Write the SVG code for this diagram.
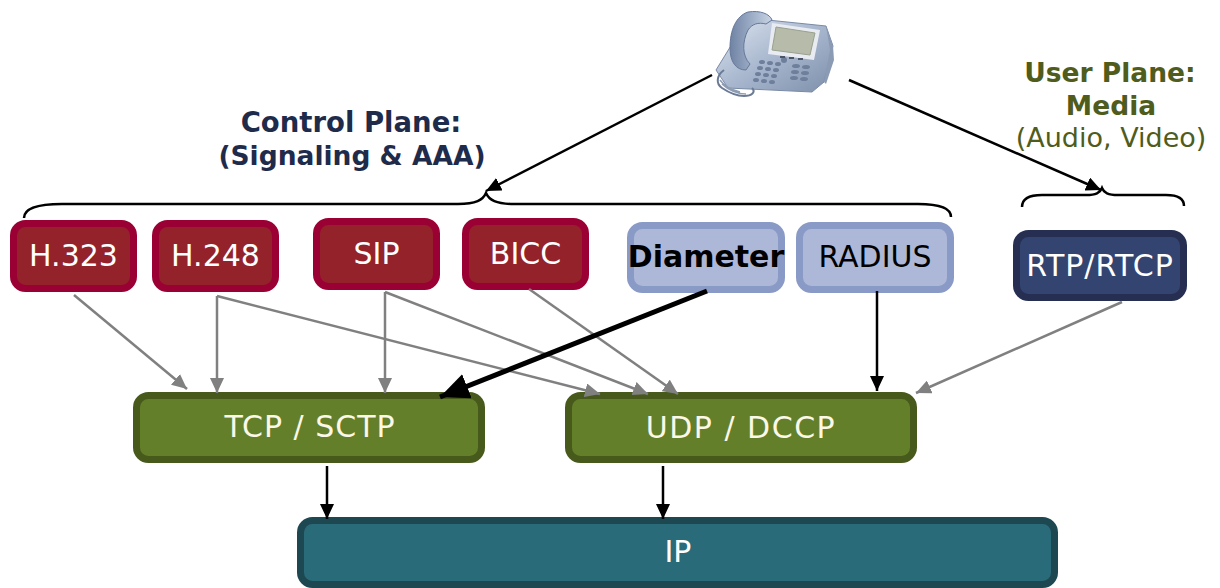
<svg xmlns="http://www.w3.org/2000/svg" width="1220" height="588" viewBox="0 0 1220 588">
  <style>
    .box { stroke-width: 7; }
    .red { fill: #93222a; stroke: #9b0035; }
    .blue { fill: #adb8d8; stroke: #8a9ac6; }
    .navy { fill: #344470; stroke: #262f52; }
    .green { fill: #647f2a; stroke: #475a1c; }
    .teal { fill: #2a6b7a; stroke: #1d4852; }
    .lbl { font-family: "DejaVu Sans", "Liberation Sans", sans-serif; font-size: 30px; text-anchor: middle; }
    .w { fill: #ffffff; }
    .cream { fill: #fbf8e8; }
    .k { fill: #000000; }
    .head { font-family: "DejaVu Sans", "Liberation Sans", sans-serif; text-anchor: middle; }
    .gray { stroke: #808080; stroke-width: 2.5; fill: none; marker-end: url(#arrGray); }
    .blk { stroke: #000000; stroke-width: 2.5; fill: none; marker-end: url(#arrBlk); }
    .blkThick { stroke: #000000; stroke-width: 5; fill: none; marker-end: url(#arrBig); }
    .brace { stroke: #000000; stroke-width: 2.5; fill: none; }
  </style>
  <defs>
    <marker id="arrGray" markerUnits="userSpaceOnUse" markerWidth="16" markerHeight="14" refX="15" refY="7" orient="auto">
      <path d="M0,0 L15,7 L0,14 z" fill="#808080"/>
    </marker>
    <marker id="arrBlk" markerUnits="userSpaceOnUse" markerWidth="16" markerHeight="14" refX="15" refY="7" orient="auto">
      <path d="M0,0 L15,7 L0,14 z" fill="#000000"/>
    </marker>
    <marker id="arrBig" markerUnits="userSpaceOnUse" markerWidth="30" markerHeight="26" refX="29" refY="13" orient="auto">
      <path d="M0,0 L29,13 L0,26 z" fill="#000000"/>
    </marker>
    <linearGradient id="phoneBody" x1="0" y1="0" x2="1" y2="1">
      <stop offset="0" stop-color="#dfe6f0"/>
      <stop offset="0.5" stop-color="#a9b8cf"/>
      <stop offset="1" stop-color="#7d8fab"/>
    </linearGradient>
    <linearGradient id="handset" x1="0" y1="0" x2="1" y2="0">
      <stop offset="0" stop-color="#6f83a3"/>
      <stop offset="0.6" stop-color="#a4b4cc"/>
      <stop offset="1" stop-color="#c9d4e3"/>
    </linearGradient>
  </defs>

  <!-- desk phone -->
  <g id="phone">
    <path d="M716,70 L748,18 L826,26 L833,46 L824,82 L812,92 L728,88 Z" fill="url(#phoneBody)" stroke="#7a8aa5" stroke-width="1"/>
    <path d="M826,26 L833,46 L834,60 L826,84 L824,82 L830,50 Z" fill="#8c9bb4"/>
    <path d="M772,23 L820,30 L814,60 L768,54 Z" fill="#e8ecf2"/>
    <path d="M776,27 L815,33 L810,55 L772,50 Z" fill="#b7bcaa" stroke="#9aa08e" stroke-width="1"/>
    <g fill="#6e7f9c">
      <ellipse cx="762" cy="62" rx="3" ry="2"/><ellipse cx="770" cy="63" rx="3" ry="2"/><ellipse cx="778" cy="64" rx="3" ry="2"/>
      <ellipse cx="760" cy="68" rx="3" ry="2"/><ellipse cx="768" cy="69" rx="3" ry="2"/><ellipse cx="776" cy="70" rx="3" ry="2"/>
      <ellipse cx="758" cy="74" rx="3" ry="2"/><ellipse cx="766" cy="75" rx="3" ry="2"/><ellipse cx="774" cy="76" rx="3" ry="2"/>
      <ellipse cx="756" cy="80" rx="3" ry="2"/><ellipse cx="764" cy="81" rx="3" ry="2"/><ellipse cx="772" cy="82" rx="3" ry="2"/>
      <ellipse cx="796" cy="66" rx="4" ry="2"/><ellipse cx="806" cy="67" rx="4" ry="2"/>
      <ellipse cx="795" cy="72" rx="4" ry="2"/><ellipse cx="805" cy="73" rx="4" ry="2"/>
      <ellipse cx="794" cy="78" rx="4" ry="2"/><ellipse cx="804" cy="79" rx="4" ry="2"/>
      <ellipse cx="784" cy="60" rx="3" ry="3"/>
    </g>
    <g fill="#4c5566">
      <rect x="780" y="56" width="5" height="2"/><rect x="789" y="57" width="5" height="2"/><rect x="798" y="58" width="5" height="2"/>
    </g>
    <path d="M748,12 C760,10 770,14 772,20 L766,24 C758,22 752,24 748,30 C742,42 742,56 750,64 L746,70 C736,70 730,62 730,48 C730,30 736,16 748,12 Z" fill="url(#handset)" stroke="#66789a" stroke-width="1"/>
    <path d="M724,70 C716,76 716,84 722,88 C728,92 736,96 744,96 C752,96 756,92 752,88" fill="none" stroke="#6b7b96" stroke-width="2"/>
    <path d="M720,80 C724,86 732,90 740,92 M722,84 C728,90 738,94 746,94" fill="none" stroke="#8e9cb3" stroke-width="1.5"/>
  </g>

  <!-- plane captions -->
  <g id="control-plane-label">
    <text class="head" x="351" y="132" font-size="27.5" font-weight="bold" fill="#1f2b4b">Control Plane:</text>
    <text class="head" x="352" y="165" font-size="26.5" font-weight="bold" fill="#1f2b4b">(Signaling &amp; AAA)</text>
  </g>
  <g id="user-plane-label">
    <text class="head" x="1110" y="82" font-size="26.5" font-weight="bold" fill="#4f5c1b">User Plane:</text>
    <text class="head" x="1111" y="115" font-size="26.5" font-weight="bold" fill="#4f5c1b">Media</text>
    <text class="head" x="1111" y="147" font-size="27" fill="#4f5c1b">(Audio, Video)</text>
  </g>

  <!-- braces -->
  <g id="braces">
    <path class="brace" d="M24,218 C24,209 36,204 62,204 L458,204 C476,204 483,200 486,193 C489,200 496,204 514,204 L918,204 C940,204 951,208 951,217"/>
    <path class="brace" d="M1022,207 C1022,199 1028,195 1042,195 L1086,195 C1096,195 1100,193 1102,188 C1104,193 1108,195 1118,195 L1166,195 C1178,195 1184,199 1184,206"/>
  </g>

  <!-- protocol nodes -->
  <g id="h323"><rect class="box red" x="13.5" y="223.5" width="120" height="65" rx="12"/><text class="lbl w" x="73.5" y="266">H.323</text></g>
  <g id="h248"><rect class="box red" x="155.5" y="223.5" width="120" height="65" rx="12"/><text class="lbl w" x="215.5" y="266">H.248</text></g>
  <g id="sip"><rect class="box red" x="316.5" y="221.5" width="120" height="65" rx="12"/><text class="lbl w" x="376.5" y="264">SIP</text></g>
  <g id="bicc"><rect class="box red" x="465.5" y="221.5" width="120" height="65" rx="12"/><text class="lbl w" x="525.5" y="264">BICC</text></g>
  <g id="diameter"><rect class="box blue" x="630.5" y="225.5" width="151" height="64" rx="12"/><text class="lbl k" x="706" y="267" font-size="27" font-weight="bold">Diameter</text></g>
  <g id="radius"><rect class="box blue" x="799.5" y="225.5" width="151" height="64" rx="12"/><text class="lbl k" x="875" y="267">RADIUS</text></g>
  <g id="rtp"><rect class="box navy" x="1016.5" y="233.5" width="167" height="64" rx="12"/><text class="lbl w" x="1100" y="276" letter-spacing="1">RTP/RTCP</text></g>

  <g id="tcp-sctp"><rect class="box green" x="136.5" y="395.5" width="345" height="64" rx="12"/><text class="lbl cream" x="310" y="437" letter-spacing="1">TCP / SCTP</text></g>
  <g id="udp-dccp"><rect class="box green" x="568.5" y="395.5" width="345" height="64" rx="12"/><text class="lbl cream" x="741" y="438" letter-spacing="1.5">UDP / DCCP</text></g>
  <g id="ip"><rect class="box teal" x="300.5" y="520.5" width="754" height="64" rx="12"/><text class="lbl w" x="678" y="562">IP</text></g>

  <!-- connectors -->
  <g id="connectors">
    <line class="blk" x1="712" y1="75" x2="486" y2="191"/>
    <line class="blk" x1="849" y1="80" x2="1101" y2="190"/>

    <line class="gray" x1="74" y1="295" x2="187" y2="389"/>
    <line class="gray" x1="217" y1="296" x2="217" y2="393"/>
    <line class="gray" x1="217" y1="296" x2="600" y2="394"/>
    <line class="gray" x1="385" y1="292" x2="385" y2="393"/>
    <line class="gray" x1="385" y1="292" x2="648" y2="394"/>
    <line class="gray" x1="529" y1="289" x2="678" y2="394"/>
    <line class="gray" x1="1122" y1="302" x2="916" y2="393"/>

    <line class="blkThick" x1="707" y1="291" x2="440" y2="397"/>
    <line class="blk" x1="877" y1="291" x2="877" y2="391"/>

    <line class="blk" x1="327" y1="466" x2="327" y2="519"/>
    <line class="blk" x1="663" y1="466" x2="663" y2="519"/>
  </g>
</svg>
